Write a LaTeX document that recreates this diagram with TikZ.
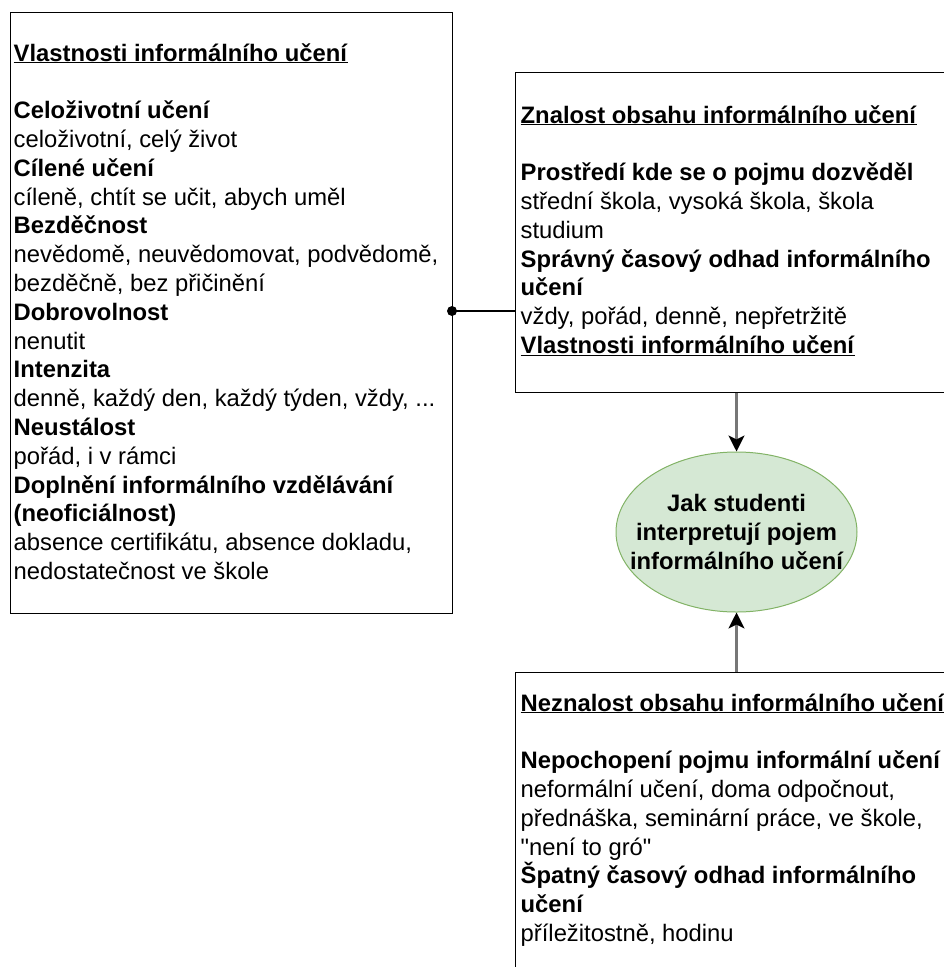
\documentclass[tikz,border=0pt]{standalone}
\usepackage{fontspec}
\setmainfont{Liberation Sans}[Ligatures=TeXOff]
\usetikzlibrary{arrows.meta,shapes.geometric}
\definecolor{ellfill}{HTML}{D5E8D4}
\definecolor{elldraw}{HTML}{82B366}
\definecolor{arrgray}{HTML}{777777}
\newcommand{\bodyfont}{\fontsize{23.8}{28.8}\selectfont}
\newcommand{\hd}[1]{\textbf{#1}}
\newcommand{\ul}[1]{\underline{\textbf{#1}}}
\begin{document}
\begin{tikzpicture}[x=1pt,y=-1pt,
  boxnode/.style={draw=black, line width=1.4pt, rectangle, inner sep=0pt, anchor=north west},
  txtnode/.style={anchor=base west, inner sep=0pt},
  arr/.style={draw=arrgray, line width=2.2pt, -{Stealth[length=16pt,width=16pt,inset=4pt,color=black]}},
  link/.style={draw=black, line width=1.4pt}]
\useasboundingbox (0,0) rectangle (944,967);
\clip (0,0) rectangle (944,967);

% boxes
\node[boxnode, minimum width=442pt, minimum height=601pt] (lbox) at (10,12) {};
\node[boxnode, minimum width=460pt, minimum height=320pt] (rbox) at (515,72) {};
\node[boxnode, minimum width=460pt, minimum height=340pt] (bbox) at (515,672) {};

% ellipse
\node[ellipse, draw=elldraw, fill=ellfill, line width=1pt, inner sep=0pt,
      minimum width=241pt, minimum height=160pt] (ell) at (736.5,532) {};
\node[align=center, inner sep=0pt, font=\bodyfont\bfseries] (elltext) at (ell.center)
  {Jak studenti\\interpretují pojem\\informálního učení};

% left text
\node[txtnode] (ltext) at (13.5,61) {\begin{minipage}[t]{440pt}\bodyfont\raggedright
\ul{Vlastnosti informálního učení}\\
\mbox{}\\
\hd{Celoživotní učení}\\
celoživotní, celý život\\
\hd{Cílené učení}\\
cíleně, chtít se učit, abych uměl\\
\hd{Bezděčnost}\\
nevědomě, neuvědomovat, podvědomě,\\
bezděčně, bez přičinění\\
\hd{Dobrovolnost}\\
nenutit\\
\hd{Intenzita}\\
denně, každý den, každý týden, vždy, ...\\
\hd{Neustálost}\\
pořád, i v rámci\\
\hd{Doplnění informálního vzdělávání}\\
\hd{(neoficiálnost)}\\
absence certifikátu, absence dokladu,\\
nedostatečnost ve škole
\end{minipage}};

% right text
\node[txtnode] (rtext) at (520.5,123) {\begin{minipage}[t]{600pt}\bodyfont\raggedright
\ul{Znalost obsahu informálního učení}\\
\mbox{}\\
\hd{Prostředí kde se o pojmu dozvěděl}\\
střední škola, vysoká škola, škola\\
studium\\
\hd{Správný časový odhad informálního}\\
\hd{učení}\\
vždy, pořád, denně, nepřetržitě\\
\ul{Vlastnosti informálního učení}
\end{minipage}};

% bottom text
\node[txtnode] (btext) at (520.5,711) {\begin{minipage}[t]{600pt}\bodyfont\raggedright
\ul{Neznalost obsahu informálního učení}\\
\mbox{}\\
\hd{Nepochopení pojmu informální učení}\\
neformální učení, doma odpočnout,\\
přednáška, seminární práce, ve škole,\\
"není to gró"\\
\hd{Špatný časový odhad informálního}\\
\hd{učení}\\
příležitostně, hodinu
\end{minipage}};

% connectors
\node[circle, fill=black, inner sep=0pt, minimum size=10pt] (dot) at (452,311) {};
\draw[link] (dot.center) -- (dot -| rbox.west);
\draw[arr] (ell.north |- rbox.south) -- (ell.north);
\draw[arr] (ell.south |- bbox.north) -- (ell.south);
\end{tikzpicture}
\end{document}
